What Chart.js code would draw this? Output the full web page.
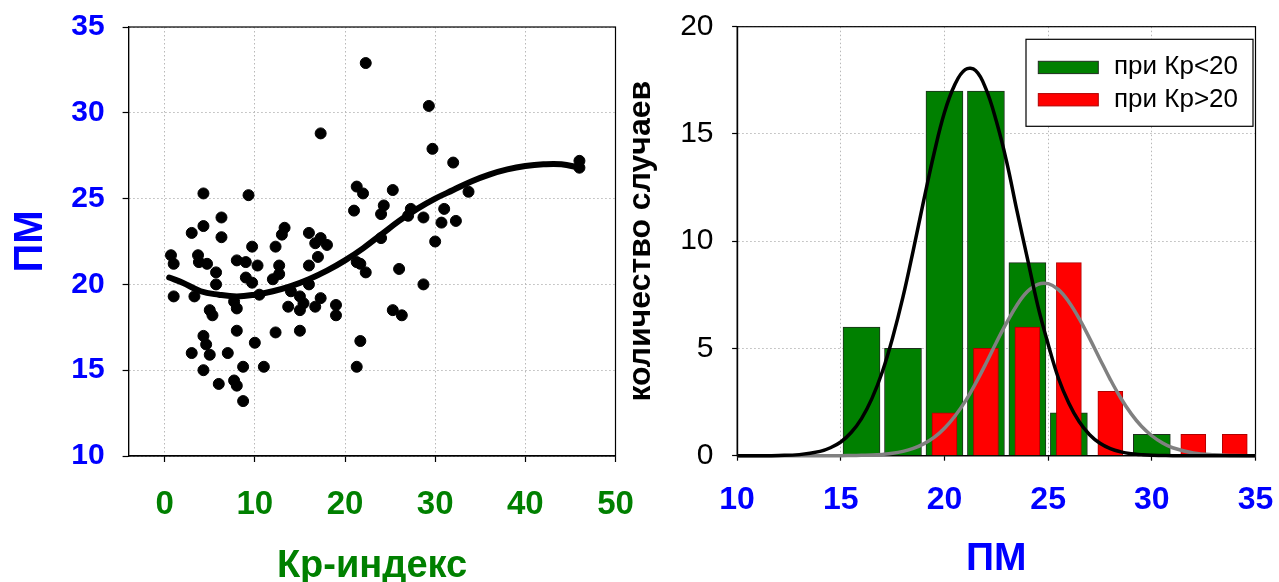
<!DOCTYPE html>
<html>
<head>
<meta charset="utf-8">
<script src="https://cdn.jsdelivr.net/npm/chart.js@4.4.1/dist/chart.umd.min.js"></script>
<style>
    html, body { margin: 0; padding: 0; background: #fff; }
    #wrap { position: relative; width: 1279px; height: 582px; overflow: hidden; }
    .box { position: absolute; top: 0; height: 582px; }
    #left { left: 0; width: 640px; }
    #right { left: 620px; width: 659px; }
</style>
</head>
<body>
<div id="wrap">
    <div class="box" id="left"><canvas id="scatter"></canvas></div>
    <div class="box" id="right"><canvas id="histogram"></canvas></div>
</div>
<script>
// left panel: Kp index vs PM
const kp_values = [
    0.7, 1.0, 1.0, 3.0, 3.3, 3.0, 3.7, 3.8, 4.3, 4.3,
    4.3, 4.6, 4.3, 4.7, 5.0, 5.3, 5.0, 5.7, 5.7, 6.3,
    6.3, 6.0, 7.0, 7.7, 8.0, 8.0, 8.0, 8.0, 7.7, 8.7,
    8.7, 9.0, 9.0, 9.3, 9.7, 9.7, 10.0, 10.3, 10.5, 11.0,
    12.0, 12.3, 12.3, 12.7, 12.7, 13.0, 13.3, 13.7, 14.0, 15.0,
    15.0, 15.4, 15.0, 16.0, 16.0, 16.0, 16.7, 16.7, 17.0, 17.3,
    17.3, 17.3, 18.0, 19.0, 19.0, 21.0, 21.3, 22.0, 22.3, 21.3,
    21.7, 22.3, 21.7, 21.3, 24.0, 24.0, 24.3, 25.3, 25.3, 26.3,
    26.0, 27.0, 27.3, 28.7, 28.7, 29.3, 29.7, 30.0, 30.7, 31.0,
    32.0, 32.3, 33.7, 46.0, 46.0
];
const pm_values = [
    21.7, 21.2, 19.3, 23.0, 19.3, 16.0, 21.7, 21.3, 25.3, 23.4,
    17.0, 16.5, 15.0, 21.2, 18.5, 18.2, 15.9, 20.7, 20.0, 23.9,
    22.75, 14.2, 16.0, 14.4, 14.1, 21.4, 17.3, 18.6, 19.0, 15.2,
    13.2, 21.3, 20.4, 25.2, 22.2, 20.1, 16.6, 21.1, 19.4, 15.2,
    20.3, 22.2, 17.2, 21.1, 20.6, 22.9, 23.3, 18.7, 19.6, 19.3,
    18.5, 18.9, 17.3, 23.0, 21.1, 20.0, 18.7, 22.4, 21.6, 22.7,
    19.2, 28.8, 22.3, 18.8, 18.2, 24.3, 25.7, 25.3, 32.9, 21.3,
    21.2, 20.7, 16.7, 15.2, 22.7, 24.1, 24.6, 25.5, 18.5, 18.2,
    20.9, 24.0, 24.4, 23.9, 20.0, 30.4, 27.9, 22.5, 23.6, 24.4,
    27.1, 23.7, 25.4, 27.2, 26.8
];
const fit_kp = [0.5, 2, 4, 6, 8, 10, 12, 14, 16, 18, 20, 22, 24, 26, 28, 30, 32, 34, 36, 38, 40, 42, 44, 46];
const fit_pm = [20.4, 20.1, 19.6, 19.4, 19.3, 19.4, 19.6, 19.9, 20.3, 20.8, 21.4, 22.1, 22.9, 23.7, 24.4, 25.0, 25.5, 26.0, 26.4, 26.7, 26.9, 27.0, 27.0, 26.8];
const kp_ticks = [0, 10, 20, 30, 40, 50];

// right panel: PM histogram
const pm_bins = [16, 18, 20, 22, 24, 26, 28, 30, 32, 34];
const count_low = [6, 5, 17, 17, 9, 2, 0, 1, 0, 0];
const count_high = [0, 0, 2, 5, 6, 9, 3, 0, 1, 1];
const curve_pm = [10, 11, 12, 13, 14, 14.5, 15, 15.5, 16, 16.5, 17, 17.5, 18, 18.5, 19, 19.5, 20, 20.5, 21, 21.5,
    22, 22.5, 23, 23.5, 24, 24.5, 25, 25.5, 26, 26.5, 27, 27.5, 28, 28.5, 29, 29.5, 30, 30.5, 31, 32, 33, 34, 35];
const curve_low = [0, 0, 0.01, 0.05, 0.2, 0.37, 0.64, 1.08, 1.73, 2.66, 3.9, 5.5, 7.4, 9.6, 11.9, 14.1, 16.0, 17.3, 18.0, 17.96,
    17.1, 15.6, 13.7, 11.4, 9.2, 7.0, 5.2, 3.6, 2.45, 1.58, 0.98, 0.58, 0.33, 0.18, 0.09, 0.05, 0.02, 0.01, 0, 0, 0, 0, 0];
const curve_high = [0, 0, 0, 0, 0, 0, 0, 0.01, 0.02, 0.03, 0.06, 0.11, 0.2, 0.34, 0.55, 0.85, 1.28, 1.84, 2.53, 3.37,
    4.3, 5.28, 6.2, 7.03, 7.65, 7.99, 8.02, 7.74, 7.17, 6.39, 5.47, 4.5, 3.55, 2.69, 1.96, 1.37, 0.93, 0.6, 0.37, 0.13, 0.04, 0.01, 0];

const FONT = "'Liberation Sans', Arial, sans-serif";
const BLUE = '#0000ff';
const GREEN = '#008000';

function xy(xs, ys) {
    return xs.map((x, i) => ({x: x, y: ys[i]}));
}

// fixed axis size, and no extra room for overhanging labels
function fixSize(size) {
    return function(axis) {
        if (axis.isHorizontal()) axis.height = size;
        else axis.width = size;
        axis.paddingLeft = 0;
        axis.paddingRight = 0;
        axis.paddingTop = 0;
        axis.paddingBottom = 0;
    };
}

// full black frame round the plot area, under the data
const frame = {
    id: 'frame',
    beforeDatasetsDraw(chart) {
        const {ctx, chartArea} = chart;
        ctx.save();
        ctx.strokeStyle = '#000';
        ctx.lineWidth = 1.2;
        ctx.strokeRect(chartArea.left, chartArea.top, chartArea.right - chartArea.left, chartArea.bottom - chartArea.top);
        ctx.restore();
    }
};

// legend box inside the plot, top right
const boxLegend = {
    id: 'boxLegend',
    afterDatasetsDraw(chart) {
        const {ctx, chartArea} = chart;
        const w = 227, h = 87;
        const x0 = chartArea.right - 2.5 - w;
        const y0 = chartArea.top + 12.6;
        ctx.save();
        ctx.fillStyle = '#fff';
        ctx.fillRect(x0, y0, w, h);
        ctx.strokeStyle = '#000';
        ctx.lineWidth = 1.2;
        ctx.strokeRect(x0, y0, w, h);
        const items = chart.data.datasets.filter(d => d.type === 'bar');
        items.forEach((d, i) => {
            const cy = y0 + 28 + i * 32.3;
            ctx.fillStyle = d.backgroundColor;
            ctx.fillRect(x0 + 12.3, cy - 6, 60, 12.3);
            ctx.strokeStyle = d.borderColor;
            ctx.lineWidth = 1;
            ctx.strokeRect(x0 + 12.3, cy - 6, 60, 12.3);
            ctx.fillStyle = '#000';
            ctx.font = '26px ' + FONT;
            ctx.textBaseline = 'middle';
            ctx.textAlign = 'left';
            ctx.fillText(d.label, x0 + 88, cy);
        });
        ctx.restore();
    }
};

function gridOpts(len) {
    return {
        color: '#b8b8b8',
        lineWidth: 1,
        tickColor: '#000',
        tickLength: len,
        tickWidth: 1.2,
        tickBorderDash: []
    };
}

document.addEventListener("DOMContentLoaded", function() {
    new Chart(document.getElementById('scatter'), {
        type: 'scatter',
        plugins: [frame],
        data: {
            datasets: [{
                    type: 'line',
                    label: 'fit',
                    data: xy(fit_kp, fit_pm),
                    borderColor: '#000',
                    borderWidth: 6,
                    borderCapStyle: 'round',
                    pointRadius: 0,
                    tension: 0.4,
                    fill: false,
                    order: 0
                },
                {
                    label: 'ПМ',
                    data: xy(kp_values, pm_values),
                    backgroundColor: '#000',
                    borderColor: '#000',
                    pointRadius: 5.5,
                    order: 1
                }
            ]
        },
        options: {
            responsive: true,
            maintainAspectRatio: false,
            animation: false,
            layout: { padding: { top: 27, right: 24.5, left: 0, bottom: 0 } },
            plugins: { legend: { display: false }, tooltip: { enabled: false } },
            scales: {
                x: {
                    type: 'linear',
                    min: -4,
                    max: 50,
                    afterBuildTicks: axis => { axis.ticks = kp_ticks.map(v => ({value: v})); },
                    afterFit: fixSize(126),
                    grid: gridOpts(6),
                    border: { color: '#000', width: 1.2, dash: [1.5, 2.5] },
                    ticks: { color: GREEN, padding: 23, font: { family: FONT, size: 33, weight: 'bold' } },
                    title: {
                        display: true,
                        text: 'Кр-индекс',
                        color: GREEN,
                        padding: { top: 0, bottom: -4 },
                        font: { family: FONT, size: 38, weight: 'bold', lineHeight: 1 }
                    }
                },
                y: {
                    min: 10,
                    max: 35,
                    ticks: { stepSize: 5, color: BLUE, padding: 18, font: { family: FONT, size: 30, weight: 'bold' } },
                    afterFit: fixSize(128.6),
                    grid: gridOpts(6),
                    border: { color: '#000', width: 1.2, dash: [1.5, 2.5] },
                    title: {
                        display: true,
                        text: 'ПМ',
                        color: BLUE,
                        padding: { top: 11, bottom: 0 },
                        font: { family: FONT, size: 40, weight: 'bold', lineHeight: 1 }
                    }
                }
            }
        }
    });

    const low_bars = xy(pm_bins, count_low).filter(p => p.y > 0);
    const high_bars = xy(pm_bins, count_high).filter(p => p.y > 0);

    new Chart(document.getElementById('histogram'), {
        type: 'bar',
        plugins: [frame, boxLegend],
        data: {
            datasets: [{
                    type: 'line',
                    label: 'Kp<20 fit',
                    data: xy(curve_pm, curve_low),
                    borderColor: '#000',
                    borderWidth: 3.5,
                    pointRadius: 0,
                    tension: 0.4,
                    clip: false,
                    order: 0
                },
                {
                    type: 'line',
                    label: 'Kp>20 fit',
                    data: xy(curve_pm, curve_high),
                    borderColor: '#808080',
                    borderWidth: 3.5,
                    pointRadius: 0,
                    tension: 0.4,
                    clip: false,
                    order: 0
                },
                {
                    type: 'bar',
                    label: 'при Кр<20',
                    data: low_bars,
                    backgroundColor: '#008000',
                    borderColor: '#1e2e1e',
                    borderWidth: 1,
                    barThickness: 37,
                    grouped: false,
                    order: 3
                },
                {
                    type: 'bar',
                    label: 'при Кр>20',
                    data: high_bars,
                    backgroundColor: '#ff0000',
                    borderColor: '#b00000',
                    borderWidth: 1,
                    barThickness: 25,
                    grouped: false,
                    order: 2
                }
            ]
        },
        options: {
            responsive: true,
            maintainAspectRatio: false,
            animation: false,
            layout: { padding: { top: 26.7, right: 23.5, left: 0, bottom: 0 } },
            plugins: { legend: { display: false }, tooltip: { enabled: false } },
            scales: {
                x: {
                    type: 'linear',
                    min: 10,
                    max: 35,
                    offset: false,
                    afterFit: fixSize(126.3),
                    grid: Object.assign(gridOpts(5), { offset: false }),
                    border: { color: '#000', width: 1.2, dash: [1.5, 2.5] },
                    ticks: { stepSize: 5, color: BLUE, padding: 20, font: { family: FONT, size: 32, weight: 'bold' } },
                    title: {
                        display: true,
                        text: 'ПМ',
                        color: BLUE,
                        padding: { top: 0, bottom: 3.5 },
                        font: { family: FONT, size: 39, weight: 'bold', lineHeight: 1 }
                    }
                },
                y: {
                    min: 0,
                    max: 20,
                    ticks: { stepSize: 5, color: '#000', padding: 18.6, font: { family: FONT, size: 30 } },
                    afterFit: fixSize(117.1),
                    grid: gridOpts(5),
                    border: { color: '#000', width: 1.2, dash: [1.5, 2.5] },
                    title: {
                        display: true,
                        text: 'количество случаев',
                        color: '#000',
                        padding: { top: 5, bottom: 0 },
                        font: { family: FONT, size: 32, weight: 'bold', lineHeight: 1 }
                    }
                }
            }
        }
    });
});
</script>
</body>
</html>
